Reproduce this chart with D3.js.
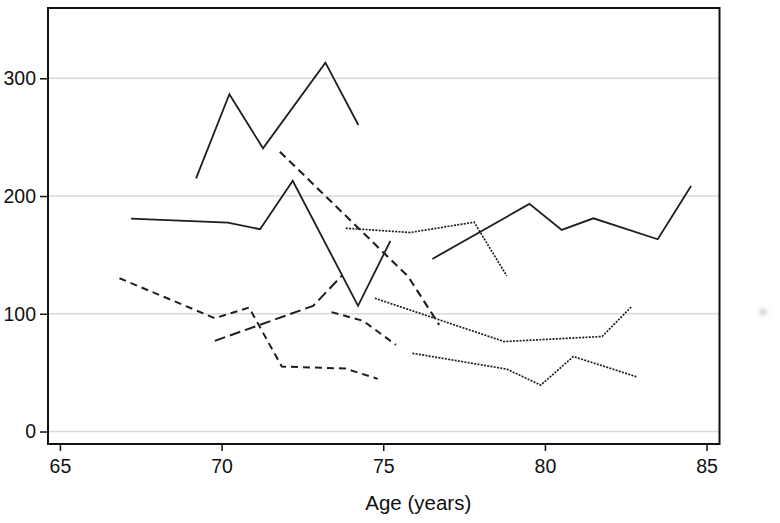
<!DOCTYPE html>
<html><head><meta charset="utf-8">
<script src="https://cdn.jsdelivr.net/npm/d3@7"></script>
<style>
html,body{margin:0;padding:0;background:#fff;}
svg{display:block;font-family:"Liberation Sans",Arial,sans-serif;}
</style></head>
<body>
<svg id="chart" width="780" height="523"></svg>
<script>
// Data (age in years, value)
const solidA = [[69.21,215],[70.24,286.5],[71.28,240.5],[73.21,313.3],[74.23,260.3]];
const solidB = [[67.20,180.8],[70.19,177.4],[71.19,171.8],[72.20,213],[74.22,106.7],[75.22,161.9]];
const solidC = [[76.52,146.6],[79.52,193.3],[80.52,171.2],[81.50,181.1],[83.49,163.3],[84.52,208.6]];
const dashA = [[66.84,130.2],[69.79,96.2],[70.85,105.3],[71.86,55.2],[73.82,53.5],[74.83,44.7]];
const longDashA = [[69.79,77],[72.83,106.7],[73.74,133]];
const dashB = [[73.40,101.4],[74.38,94],[75.39,73.6]];
const dashC = [[71.80,237.7],[75.77,131.6],[76.73,90.6]];
const dotA = [[73.84,172.7],[75.83,169],[77.81,177.8],[78.82,132.2]];
const dotB = [[74.74,113.2],[78.74,76.4],[81.77,80.7],[82.68,106.1]];
const dotC = [[75.90,66.5],[78.82,53],[79.87,39.4],[80.88,63.7],[82.87,46.2]];
const xTicks = [65,70,75,80,85];
const yTicks = [0,100,200,300];
const xTitle = "Age (years)";

const series = [
  {d:solidA, dash:null, w:1.8},
  {d:solidB, dash:null, w:1.8},
  {d:solidC, dash:null, w:1.8},
  {d:dashA, dash:"7,5", w:2},
  {d:longDashA, dash:"11,5", w:2},
  {d:dashB, dash:"7,5", w:2},
  {d:dashC, dash:"8,5", w:2.1},
  {d:dotA, dash:"2,1.3", w:1.7},
  {d:dotB, dash:"2,1.3", w:1.7},
  {d:dotC, dash:"2,1.3", w:1.7}
];

const L=48, R=719.5, T=8, B=444;
const svg = d3.select("#chart");
const x = d3.scaleLinear().domain([64.63,85.40]).range([L,R]);
const y = d3.scaleLinear().domain([-10.6,359.7]).range([B,T]);

// faint artifact blob at right
const defs = svg.append("defs");
const rg = defs.append("radialGradient").attr("id","blob");
rg.append("stop").attr("offset","0%").attr("stop-color","#cfcfcf");
rg.append("stop").attr("offset","100%").attr("stop-color","#ffffff").attr("stop-opacity",0);
svg.append("circle").attr("cx",763).attr("cy",312).attr("r",9).attr("fill","url(#blob)");

// gridlines
svg.append("g").selectAll("line").data(yTicks).join("line")
  .attr("x1",L).attr("x2",R).attr("y1",d=>y(d)).attr("y2",d=>y(d))
  .attr("stroke","#dadada").attr("stroke-width",1.6);

// lines
const line = d3.line().x(d=>x(d[0])).y(d=>y(d[1]));
svg.append("g").selectAll("path").data(series).join("path")
  .attr("d",d=>line(d.d)).attr("fill","none")
  .attr("stroke","#1e1e1e").attr("stroke-width",d=>d.w)
  .attr("stroke-dasharray",d=>d.dash);

// frame
svg.append("rect").attr("x",L).attr("y",T).attr("width",R-L).attr("height",B-T)
  .attr("fill","none").attr("stroke","#111").attr("stroke-width",2);

// axes
const xAxis = d3.axisBottom(x).tickValues(xTicks).tickSize(7).tickPadding(8).tickFormat(d3.format("d"));
const gx = svg.append("g").attr("transform",`translate(0,${B})`).call(xAxis);
gx.select(".domain").remove();
gx.selectAll("line").attr("stroke","#111").attr("stroke-width",1.5);
gx.selectAll("text").attr("font-size",19.5).attr("fill","#111")
  .attr("font-family","'Liberation Sans',Arial,sans-serif");

const yAxis = d3.axisLeft(y).tickValues(yTicks).tickSize(8).tickPadding(4).tickFormat(d3.format("d"));
const gy = svg.append("g").attr("transform",`translate(${L},0)`).call(yAxis);
gy.select(".domain").remove();
gy.selectAll("line").attr("stroke","#111").attr("stroke-width",1.5);
gy.selectAll("text").attr("font-size",19.5).attr("fill","#111")
  .attr("font-family","'Liberation Sans',Arial,sans-serif");

svg.append("text").attr("x",(x(65)+x(85))/2+35).attr("y",510)
  .attr("text-anchor","middle").attr("font-size",20.5).attr("fill","#111")
  .text(xTitle);
</script>
</body></html>
